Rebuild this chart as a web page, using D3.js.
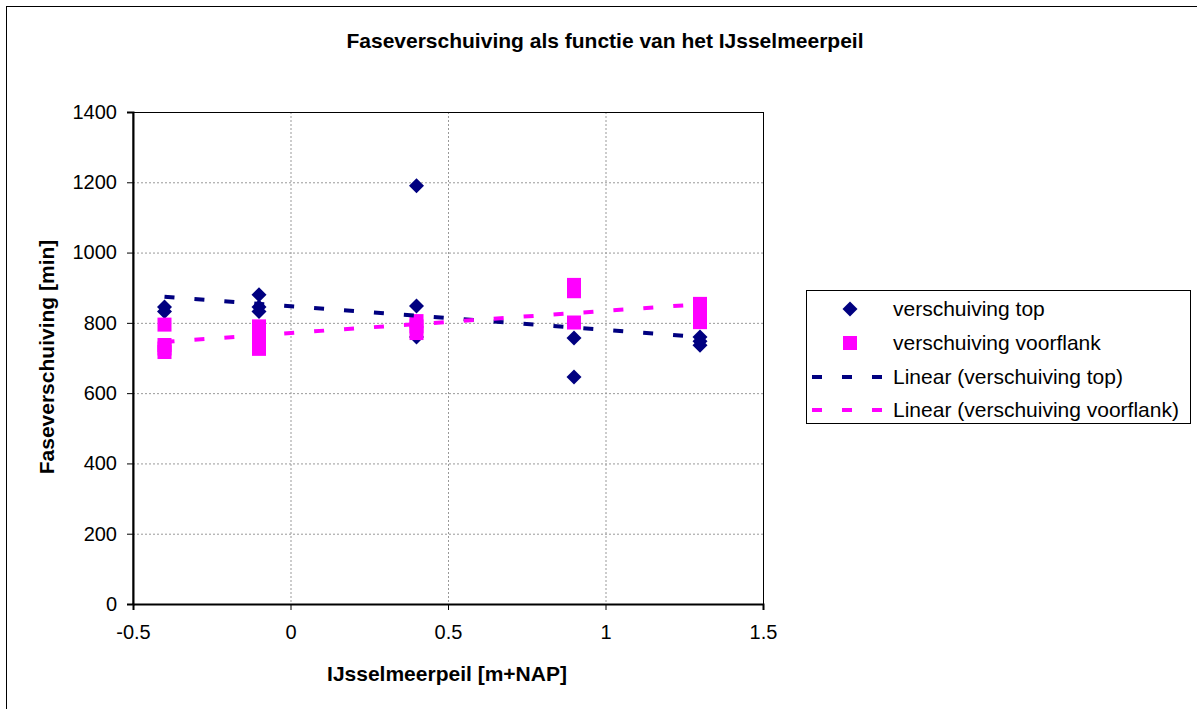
<!DOCTYPE html>
<html><head><meta charset="utf-8">
<script src="https://cdn.jsdelivr.net/npm/d3@7"></script>
<style>
html,body{margin:0;padding:0;background:#fff;}
svg{display:block;font-family:"Liberation Sans",Arial,sans-serif;}
</style></head>
<body><svg id="c" width="1197" height="709"></svg>
<script>
// ---- data ----
const title = "Faseverschuiving als functie van het IJsselmeerpeil";
const xTitle = "IJsselmeerpeil [m+NAP]";
const yTitle = "Faseverschuiving [min]";
const xTicks = [-0.5, 0, 0.5, 1, 1.5];
const yTicks = [0, 200, 400, 600, 800, 1000, 1200, 1400];
const topX = [-0.4, -0.4, -0.1, -0.1, -0.1, 0.4, 0.4, 0.4, 0.9, 0.9, 1.3, 1.3, 1.3];
const topY = [845, 832, 880, 845, 832, 1190, 848, 760, 757, 646, 760, 748, 736];
const flankX = [-0.4, -0.4, -0.4, -0.4, -0.1, -0.1, -0.1, -0.1, 0.4, 0.4, 0.4, 0.9, 0.9, 0.9, 1.3, 1.3, 1.3, 1.3];
const flankY = [795, 737, 727, 717, 790, 770, 750, 726, 805, 790, 771, 908, 890, 801, 854, 835, 815, 802];
const trendX = [-0.4, 1.3];
const trendTopY = [874, 760];
const trendFlankY = [746, 853];
const legendLabels = ["verschuiving top", "verschuiving voorflank", "Linear (verschuiving top)", "Linear (verschuiving voorflank)"];

const NAVY = "#000080", MAG = "#FF00FF";
const svg = d3.select("#c");
// outer frame (right/bottom edges beyond view)
svg.append("rect").attr("x", 6.5).attr("y", 6.5).attr("width", 1300).attr("height", 800)
  .attr("fill", "#fff").attr("stroke", "#000").attr("stroke-width", 1);

const L = 133, R = 763, T = 112, B = 604;
const x = d3.scaleLinear().domain([-0.5, 1.5]).range([L, R]);
const y = d3.scaleLinear().domain([0, 1400]).range([B, T]);

// grid
const g = svg.append("g");
g.selectAll(".gy").data(yTicks.filter(v => v > 0 && v < 1400)).join("line")
  .attr("x1", L).attr("x2", R).attr("y1", d => y(d) + 0.5).attr("y2", d => y(d) + 0.5)
  .attr("stroke", "#999").attr("stroke-dasharray", "2,2");
g.selectAll(".gx").data(xTicks.filter(v => v > -0.5 && v < 1.5)).join("line")
  .attr("y1", T).attr("y2", B).attr("x1", d => x(d) + 0.5).attr("x2", d => x(d) + 0.5)
  .attr("stroke", "#999").attr("stroke-dasharray", "2,2");
// plot border
svg.append("rect").attr("x", L).attr("y", T + 0.5).attr("width", R - L + 0.5).attr("height", B - T)
  .attr("fill", "none").attr("stroke", "#000").attr("stroke-width", 1);

// axes
const yAxis = d3.axisLeft(y).tickValues(yTicks).tickSize(6).tickPadding(10).tickFormat(d3.format("d"));
const xAxis = d3.axisBottom(x).tickValues(xTicks).tickSize(6).tickPadding(15).tickFormat(d => String(d));
const ya = svg.append("g").attr("transform", `translate(${L},0)`).call(yAxis);
const xa = svg.append("g").attr("transform", `translate(0,${B})`).call(xAxis);
[ya, xa].forEach(a => {
  a.select(".domain").attr("stroke", "#000").attr("stroke-width", 2);
  a.selectAll(".tick line").attr("stroke", "#000");
  a.selectAll("text").attr("font-size", 20).attr("fill", "#000").attr("font-family", "Liberation Sans, Arial, sans-serif");
});

// markers
const diamond = "M0,-7.5L7.5,0L0,7.5L-7.5,0Z";
svg.append("g").selectAll("path").data(topY).join("path")
  .attr("d", diamond).attr("fill", NAVY)
  .attr("transform", (d, i) => `translate(${x(topX[i])},${y(d)})`);
svg.append("g").selectAll("rect").data(flankY).join("rect")
  .attr("x", (d, i) => x(flankX[i]) - 7).attr("y", d => y(d) - 7)
  .attr("width", 14).attr("height", 14).attr("fill", MAG);

// trend lines
const line = d3.line().x((d, i) => x(trendX[i])).y(d => y(d));
svg.append("path").attr("d", line(trendTopY)).attr("stroke", NAVY).attr("stroke-width", 4)
  .attr("stroke-dasharray", "10,20").attr("fill", "none");
svg.append("path").attr("d", line(trendFlankY)).attr("stroke", MAG).attr("stroke-width", 4)
  .attr("stroke-dasharray", "10,20").attr("fill", "none");

// titles
svg.append("text").attr("x", 605).attr("y", 48).attr("text-anchor", "middle")
  .attr("font-size", 21).attr("font-weight", "bold").text(title);
svg.append("text").attr("x", 447).attr("y", 681).attr("text-anchor", "middle")
  .attr("font-size", 21).attr("font-weight", "bold").text(xTitle);
svg.append("text").attr("transform", "translate(54,357) rotate(-90)").attr("text-anchor", "middle")
  .attr("font-size", 21).attr("font-weight", "bold").text(yTitle);

// legend
const lg = svg.append("g");
lg.append("rect").attr("x", 806.5).attr("y", 290.5).attr("width", 384).attr("height", 133)
  .attr("fill", "#fff").attr("stroke", "#000");
const rowsY = [309, 343, 377, 410];
lg.append("path").attr("d", diamond).attr("fill", NAVY).attr("transform", `translate(850,${rowsY[0]})`);
lg.append("rect").attr("x", 843).attr("y", rowsY[1] - 7).attr("width", 14).attr("height", 14).attr("fill", MAG);
[[NAVY, rowsY[2]], [MAG, rowsY[3]]].forEach(([c, yy]) => {
  lg.append("line").attr("x1", 812).attr("x2", 882).attr("y1", yy).attr("y2", yy)
    .attr("stroke", c).attr("stroke-width", 4).attr("stroke-dasharray", "10,20");
});
lg.selectAll("text.l").data(legendLabels).join("text")
  .attr("x", 893).attr("y", (d, i) => rowsY[i] + 7).attr("font-size", 21).text(d => d);
</script></body></html>
